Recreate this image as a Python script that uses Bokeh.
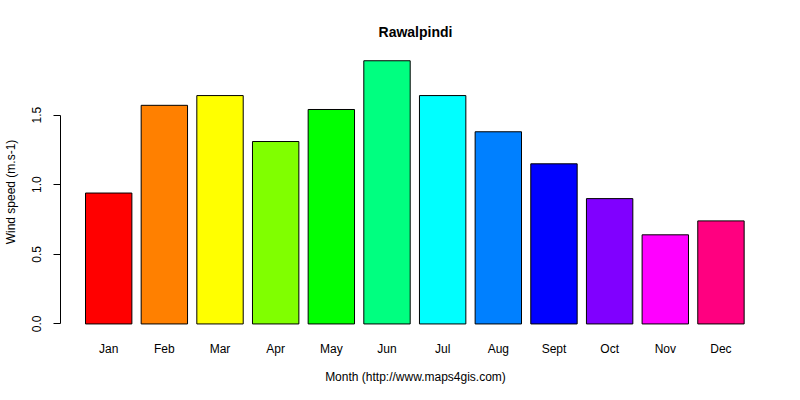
from bokeh.plotting import figure
from bokeh.models import FixedTicker, NumeralTickFormatter, ColumnDataSource
from bokeh.embed import file_html
from bokeh.resources import INLINE

# data
months = ["Jan", "Feb", "Mar", "Apr", "May", "Jun",
          "Jul", "Aug", "Sept", "Oct", "Nov", "Dec"]
wind_speed = [0.94, 1.57, 1.64, 1.31, 1.54, 1.89,
              1.64, 1.38, 1.15, 0.90, 0.64, 0.74]
colors = ["#FF0000", "#FF8000", "#FFFF00", "#80FF00", "#00FF00", "#00FF80",
          "#00FFFF", "#0080FF", "#0000FF", "#8000FF", "#FF00FF", "#FF0080"]
y_ticks = [0, 0.5, 1.0, 1.5]

FONT = "Liberation Sans"

# barplot-style positions: width 1, space 0.2
centers = [0.7 + i * 1.2 for i in range(len(months))]

source = ColumnDataSource(data=dict(x=centers, top=wind_speed, color=colors))

p = figure(width=792, height=392, output_backend="svg", toolbar_location=None,
           x_range=(-0.339, 14.968), y_range=(-0.0758, 1.9708),
           title="Rawalpindi",
           x_axis_label="Month (http://www.maps4gis.com)",
           y_axis_label="Wind speed (m.s-1)")
p.min_border_left = 60
p.min_border_right = 22
p.min_border_top = 49
p.min_border_bottom = 58
p.outline_line_color = None
p.xgrid.grid_line_color = None
p.ygrid.grid_line_color = None

p.title.align = "center"
p.title.text_font = FONT
p.title.text_font_size = "14px"
p.title.text_font_style = "bold"
p.title.text_color = "black"
p.title.standoff = 19

p.vbar(x="x", top="top", bottom=0, width=1.0, fill_color="color",
       line_color="black", line_width=1, source=source)

# x axis: labels only
xa = p.xaxis[0]
xa.ticker = FixedTicker(ticks=centers)
xa.major_label_overrides = {c: m for c, m in zip(centers, months)}
xa.axis_line_color = None
xa.major_tick_line_color = None
xa.minor_tick_line_color = None
xa.major_tick_out = 0
xa.major_label_standoff = 7
xa.axis_label_standoff = 11

# y axis
ya = p.yaxis[0]
ya.ticker = FixedTicker(ticks=y_ticks)
ya.formatter = NumeralTickFormatter(format="0.0")
ya.bounds = (0, 1.5)
ya.major_label_orientation = "vertical"
ya.major_tick_out = 7
ya.major_tick_in = 0
ya.minor_tick_line_color = None
ya.major_label_standoff = 12
ya.axis_label_standoff = 12
ya.axis_line_color = "black"
ya.major_tick_line_color = "black"

for ax in (xa, ya):
    ax.major_label_text_font = FONT
    ax.major_label_text_font_size = "12px"
    ax.major_label_text_color = "black"
    ax.axis_label_text_font = FONT
    ax.axis_label_text_font_size = "12px"
    ax.axis_label_text_font_style = "normal"
    ax.axis_label_text_color = "black"

open("out.html", "w").write(file_html(p, INLINE))
